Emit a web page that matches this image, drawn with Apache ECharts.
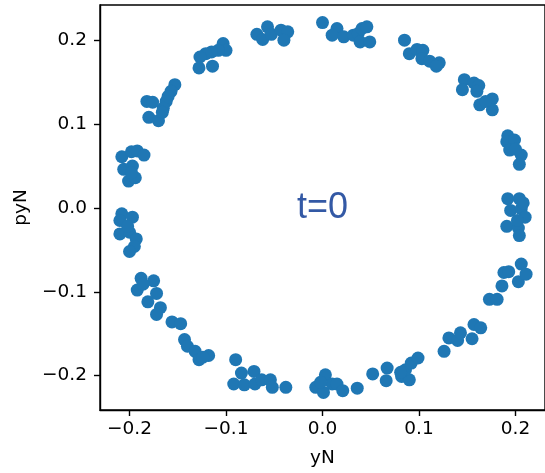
<!DOCTYPE html>
<html>
<head>
<meta charset="utf-8">
<script src="https://cdn.jsdelivr.net/npm/echarts@6/dist/echarts.min.js"></script>
<style>
html,body{margin:0;padding:0;background:#fff;}
#chart{width:545px;height:473px;}
</style>
</head>
<body>
<div id="chart"></div>
<script>
// yN values (horizontal)
const yN = [
  0.000, 0.015, 0.010, 0.022, 0.032, 0.037, 0.041, 0.046, 0.039, 0.049,
  -0.068, -0.057, -0.062, -0.053, -0.043, -0.036, -0.040,
  -0.103, -0.100, -0.108, -0.115, -0.121, -0.127, -0.128, -0.114,
  -0.153, -0.157, -0.160, -0.162, -0.165, -0.182, -0.176, -0.180, -0.170, -0.166,
  -0.208, -0.198, -0.192, -0.185, -0.206, -0.197, -0.201, -0.194, -0.198,
  -0.208, -0.210, -0.197, -0.210, -0.200, -0.193, -0.195, -0.200, -0.202,
  -0.188, -0.175, -0.192, -0.186, -0.172, -0.181, -0.168, -0.172,
  -0.156, -0.147, -0.143, -0.140, -0.132, -0.128, -0.118, -0.124,
  -0.090, -0.084, -0.092, -0.081, -0.071, -0.070, -0.063, -0.054, -0.052, -0.038,
  -0.007, 0.003, 0.001, 0.010, 0.015, 0.021, 0.036, -0.002,
  0.052, 0.067, 0.066, 0.082, 0.090, 0.086, 0.092, 0.099, 0.081,
  0.126, 0.131, 0.140, 0.143, 0.155, 0.157, 0.164,
  0.173, 0.181, 0.186, 0.188, 0.193, 0.203, 0.206, 0.211,
  0.192, 0.204, 0.195, 0.206, 0.210, 0.191, 0.203, 0.204, 0.202, 0.208,
  0.192, 0.191, 0.199, 0.194, 0.206, 0.204, 0.200,
  0.147, 0.145, 0.157, 0.162, 0.160, 0.163, 0.176, 0.176, 0.169,
  0.085, 0.090, 0.098, 0.104, 0.103, 0.111, 0.121, 0.118
];
// pyN values (vertical)
const pyN = [
  0.221, 0.214, 0.206, 0.204, 0.206, 0.208, 0.214, 0.216, 0.198, 0.198,
  0.207, 0.216, 0.201, 0.207, 0.212, 0.210, 0.200,
  0.196, 0.188, 0.188, 0.186, 0.184, 0.180, 0.167, 0.169,
  0.147, 0.139, 0.133, 0.127, 0.119, 0.127, 0.126, 0.108, 0.104, 0.114,
  0.061, 0.067, 0.068, 0.063, 0.046, 0.050, 0.032, 0.036, 0.042,
  -0.007, -0.015, -0.011, -0.031, -0.029, -0.037, -0.046, -0.052, -0.022,
  -0.084, -0.087, -0.098, -0.091, -0.102, -0.112, -0.119, -0.127,
  -0.136, -0.138, -0.157, -0.165, -0.171, -0.181, -0.176, -0.178,
  -0.181, -0.197, -0.210, -0.211, -0.195, -0.210, -0.205, -0.205, -0.214, -0.214,
  -0.214, -0.199, -0.220, -0.210, -0.210, -0.218, -0.215, -0.208,
  -0.198, -0.191, -0.206, -0.201, -0.205, -0.193, -0.185, -0.179, -0.196,
  -0.171, -0.155, -0.158, -0.149, -0.156, -0.139, -0.143,
  -0.109, -0.109, -0.093, -0.077, -0.076, -0.088, -0.067, -0.079,
  0.011, 0.011, -0.003, -0.001, -0.011, -0.022, -0.024, -0.033, -0.015, 0.006,
  0.086, 0.079, 0.081, 0.069, 0.063, 0.052, 0.070,
  0.153, 0.141, 0.149, 0.146, 0.139, 0.123, 0.130, 0.117, 0.127,
  0.200, 0.184, 0.189, 0.188, 0.178, 0.175, 0.173, 0.169
];
const xTicks = [-0.2, -0.1, 0.0, 0.1, 0.2];
const yTicks = [-0.2, -0.1, 0.0, 0.1, 0.2];
const annotationText = 't=0';
const annotationPos = [0, 0];

const points = yN.map((v, i) => [v, pyN[i]]);
const fmt = v => {
  const s = Math.abs(v).toFixed(1);
  return (v < -1e-9 ? '\u2212' : '') + s;
};
const tickFont = {fontFamily: 'DejaVu Sans', fontSize: 18.5, color: '#000'};

const chart = echarts.init(document.getElementById('chart'), null, {renderer: 'canvas'});
chart.setOption({
  animation: false,
  backgroundColor: '#fff',
  grid: {
    left: 100, top: 5, right: -5, bottom: 61,
    show: true, borderColor: '#000', borderWidth: 1.4, backgroundColor: 'transparent'
  },
  xAxis: {
    type: 'value', min: -0.2306, max: 0.2306,
    name: 'yN', nameLocation: 'middle', nameGap: 39,
    nameTextStyle: {fontFamily: 'DejaVu Sans', fontSize: 18.5, color: '#000'},
    axisLine: {show: true, onZero: false, lineStyle: {color: '#000', width: 1.4}},
    axisTick: {show: true, length: 6, customValues: xTicks, lineStyle: {color: '#000', width: 1.4}},
    axisLabel: Object.assign({margin: 10, customValues: xTicks, formatter: fmt, showMinLabel: true, showMaxLabel: true}, tickFont),
    splitLine: {show: false}
  },
  yAxis: {
    type: 'value', min: -0.241, max: 0.242,
    name: 'pyN', nameLocation: 'middle', nameGap: 68,
    nameTextStyle: {fontFamily: 'DejaVu Sans', fontSize: 18.5, color: '#000'},
    axisLine: {show: true, onZero: false, lineStyle: {color: '#000', width: 1.4}},
    axisTick: {show: true, length: 6, customValues: yTicks, lineStyle: {color: '#000', width: 1.4}},
    axisLabel: Object.assign({margin: 13, customValues: yTicks, formatter: fmt}, tickFont),
    splitLine: {show: false}
  },
  series: [
    {
      type: 'scatter',
      data: points,
      symbol: 'circle',
      symbolSize: 13,
      itemStyle: {color: '#1f77b4', opacity: 1},
      emphasis: {disabled: true}
    },
    {
      type: 'scatter',
      data: [annotationPos],
      symbolSize: 0,
      silent: true,
      label: {
        show: true, position: 'inside',
        formatter: annotationText,
        fontFamily: 'Liberation Sans', fontSize: 36, color: '#00308f'
      }
    }
  ]
});
</script>
</body>
</html>
